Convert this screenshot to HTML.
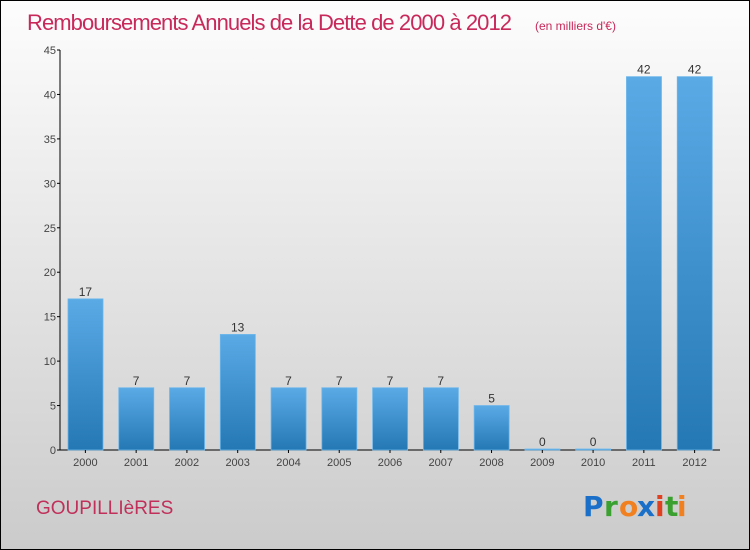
<!DOCTYPE html>
<html><head><meta charset="utf-8"><style>
body{margin:0;width:750px;height:550px;overflow:hidden;font-family:"Liberation Sans",sans-serif}
svg{display:block}
</style></head><body>
<svg width="750" height="550">
<defs>
<linearGradient id="bg" x1="0" y1="0" x2="0" y2="1"><stop offset="0" stop-color="#fdfdfd"/><stop offset="1" stop-color="#cbcbcb"/></linearGradient>
<linearGradient id="bar" x1="0" y1="0" x2="0" y2="1"><stop offset="0" stop-color="#5aaae6"/><stop offset="1" stop-color="#2478b4"/></linearGradient>
</defs>
<rect x="0.5" y="0.5" width="749" height="549" fill="url(#bg)" stroke="#000"/>
<text x="27" y="30" font-size="22" fill="#c8285a" textLength="485">Remboursements Annuels de la Dette de 2000 à 2012</text>
<text x="535" y="30" font-size="12" fill="#c8285a">(en milliers d'€)</text>
<g id="yaxis"></g>
<g id="bars"></g>
<text x="36" y="514" font-size="19" fill="#c0305a">GOUPILLIèRES</text>
<g font-size="28" font-weight="bold" font-family="'DejaVu Sans',sans-serif">
<text x="583" y="516" fill="#1a70c8">P</text><text x="604" y="516" fill="#3aa030">r</text><text x="619" y="516" fill="#f08020">o</text><text x="637" y="516" fill="#1a70c8">x</text><text x="655" y="516" fill="#e04020">i</text><text x="665" y="516" fill="#3aa030">t</text><text x="677" y="516" fill="#f08020">i</text>
</g>
</svg>
<script>
const categories=["2000","2001","2002","2003","2004","2005","2006","2007","2008","2009","2010","2011","2012"];
const values=[17,7,7,13,7,7,7,7,5,0,0,42,42];
const yTicks=[0,5,10,15,20,25,30,35,40,45];
const NS="http://www.w3.org/2000/svg";
const x0=60,x1=720,y0=450,yTop=50,yMax=45;
const band=(x1-x0)/categories.length;
const y=v=>y0-(v/yMax)*(y0-yTop);
const xb=i=>x0+i*band;
function mk(tag,attrs,parent,txt){const e=document.createElementNS(NS,tag);for(const k in attrs)e.setAttribute(k,attrs[k]);if(txt!==undefined)e.textContent=txt;parent.appendChild(e);return e;}
const ya=document.getElementById('yaxis'),bg=document.getElementById('bars');
let ax=mk('line',{x1:x0,y1:yTop,x2:x0,y2:y0,stroke:'#000'},ya);


let xa=mk('line',{x1:x0,y1:y0,x2:x1,y2:y0,stroke:'#000'},ya);


yTicks.forEach(t=>{
 mk('line',{x1:x0-3,y1:y(t),x2:x0,y2:y(t),stroke:'#000'},ya);
 const l=mk('text',{x:x0-4,y:y(t)+4,'font-size':11,fill:'#444','text-anchor':'end'},ya,t);
 
 
});
categories.forEach((c,i)=>{
 const cx=xb(i)+band/2,v=values[i];
 const h=Math.max(y0-y(v),1);
 const r=mk('rect',{x:xb(i)+8,y:y0-h,width:35,height:h,fill:'url(#bar)',stroke:'#6bb6ec','stroke-width':0.8},bg);
 
 
 const vl=mk('text',{x:cx,y:y0-h-3,'font-size':12,fill:'#333','text-anchor':'middle'},bg,v);
 
 
 mk('line',{x1:cx,y1:y0,x2:cx,y2:y0+3,stroke:'#000'},bg);
 const xl=mk('text',{x:cx,y:y0+16,'font-size':11,fill:'#444','text-anchor':'middle'},bg,c);
 
 
});
</script>
</body></html>
